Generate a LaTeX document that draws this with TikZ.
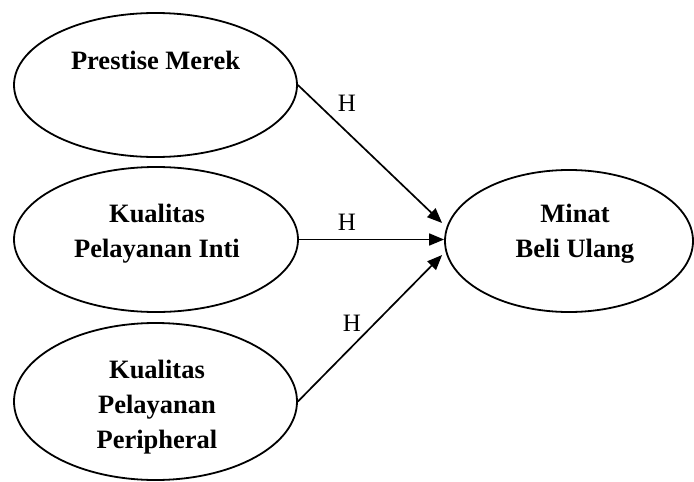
\documentclass[tikz,border=0pt]{standalone}
\usepackage{fontspec}
\setmainfont{Liberation Serif}
\usetikzlibrary{shapes.geometric, arrows.meta, calc}

\begin{document}
\begin{tikzpicture}[x=1pt, y=-1pt,
    latent/.style={draw, ellipse, line width=1.8pt, inner sep=0pt},
    varname/.style={align=center, font=\fontsize{26.5}{35}\selectfont\bfseries},
    path/.style={line width=1.7pt, -{Triangle[length=15pt,width=12pt]}},
    hyp/.style={font=\fontsize{25}{28}\selectfont}]

    \useasboundingbox (0,0) rectangle (694,482);

    % --- Exogenous variables (left column) ---
    \node[latent, minimum width=283pt, minimum height=144pt] (prestise) at (155.5,85) {};
    \node[varname] (prestiseTxt) at (155.5,60) {Prestise Merek};

    \node[latent, minimum width=284pt, minimum height=145pt] (inti) at (156,239.5) {};
    \node[varname] (intiTxt) at (157,234) {Kualitas\\Pelayanan Inti};

    \node[latent, minimum width=283pt, minimum height=157pt] (peri) at (155.5,401.5) {};
    \node[varname] (periTxt) at (157,407) {Kualitas\\Pelayanan\\Peripheral};

    % --- Endogenous variable ---
    \node[latent, minimum width=248pt, minimum height=142pt] (minat) at (569,241) {};
    \node[varname] (minatTxt) at (575,234) {Minat\\Beli Ulang};

    % --- Hypothesised paths ---
    \draw[path] (prestise.east) -- ([xshift=-2pt,yshift=18pt]minat.west);
    \draw[path] (inti.east) -- (inti.east -| minat.west);
    \draw[path] (peri.east) -- ([xshift=-2pt,yshift=-14pt]minat.west);

    % H labels
    \node[hyp] (h1) at (347,103) {H};
    \node[hyp] (h2) at (347,222) {H};
    \node[hyp] (h3) at (352,323) {H};

\end{tikzpicture}
\end{document}
